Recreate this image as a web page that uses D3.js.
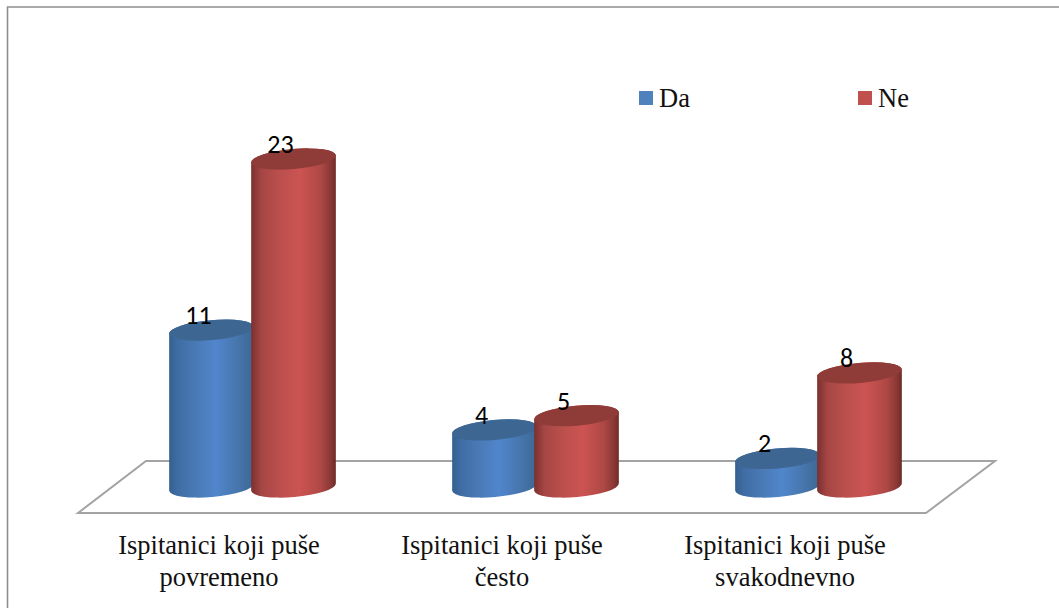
<!DOCTYPE html>
<html>
<head>
<meta charset="utf-8">
<script src="https://cdn.jsdelivr.net/npm/d3@7"></script>
<style>
html,body{margin:0;padding:0;background:#fff;overflow:hidden}
svg{display:block}
</style>
</head>
<body>
<svg id="chart" width="1059" height="608"></svg>
<script>
const categories = ["Ispitanici koji puše povremeno", "Ispitanici koji puše često", "Ispitanici koji puše svakodnevno"];
const seriesNames = ["Da", "Ne"];
const daValues = [11, 4, 2];
const neValues = [23, 5, 8];

const svg = d3.select("#chart");
const x0 = d3.scalePoint().domain(categories).range([252.5, 818.5]);
const x1 = d3.scalePoint().domain(seriesNames).range([-41, 41]);
const y = d3.scaleLinear().domain([0, 23]).range([487, 159]);
const labelX = d3.scalePoint().domain(categories).range([219, 785]);

const rx = 42.5, ry = 10, tilt = -5;
const dx = rx * Math.cos(tilt * Math.PI / 180), dy = rx * Math.sin(tilt * Math.PI / 180);

const palette = {
  Da: {id: "gDa", top: "#3d6693", swatch: "#4f81bd",
       stops: [[0, "#34608f"], [0.1, "#3f6ca3"], [0.32, "#4a7ab6"], [0.55, "#5186cc"], [0.82, "#4675ab"], [1, "#3d6793"]]},
  Ne: {id: "gNe", top: "#8f3c39", swatch: "#c0504d",
       stops: [[0, "#7a3030"], [0.12, "#a54644"], [0.32, "#b94f4c"], [0.57, "#cc5452"], [0.82, "#ae4845"], [0.94, "#8a3835"], [1, "#6f2b29"]]}
};

const defs = svg.append("defs");
seriesNames.forEach(s => {
  const g = defs.append("linearGradient").attr("id", palette[s].id)
    .attr("x1", 0).attr("x2", 1).attr("y1", 0).attr("y2", 0);
  palette[s].stops.forEach(st => g.append("stop").attr("offset", st[0]).attr("stop-color", st[1]));
});

// outer frame (top and left edges only are visible)
svg.append("path").attr("d", "M7.5,608V7H1059").attr("fill", "none").attr("stroke", "#8e8e8e").attr("stroke-width", 1.6);

// floor
svg.append("path").attr("d", "M78,513L146,461L995,461L926,513Z")
  .attr("fill", "none").attr("stroke", "#a3a3a3").attr("stroke-width", 2);

const rows = [];
categories.forEach((c, i) => {
  rows.push({c, s: "Da", v: daValues[i]});
  rows.push({c, s: "Ne", v: neValues[i]});
});

const bars = svg.append("g").selectAll("g").data(rows).join("g")
  .attr("transform", d => `translate(${x0(d.c) + x1(d.s)},0)`);

bars.append("path")
  .attr("fill", d => `url(#${palette[d.s].id})`)
  .attr("d", d => {
    const t = y(d.v), b = y(0);
    return `M${-dx},${t - dy}L${-dx},${b - dy}` +
      `A${rx},${ry} ${tilt} 0 0 ${dx},${b + dy}` +
      `L${dx},${t + dy}` +
      `A${rx},${ry} ${tilt} 0 0 ${-dx},${t - dy}Z`;
  });

bars.append("ellipse")
  .attr("rx", rx).attr("ry", ry)
  .attr("fill", d => palette[d.s].top)
  .attr("transform", d => `translate(0,${y(d.v)}) rotate(${tilt})`);

// data labels
svg.append("g").selectAll("text").data(rows).join("text")
  .attr("x", d => x0(d.c) + x1(d.s) - 13)
  .attr("y", d => y(d.v) - 6)
  .attr("text-anchor", "middle")
  .attr("font-family", "Carlito, Lato, 'Noto Sans', sans-serif")
  .attr("font-size", 26)
  .attr("fill", "#000")
  .text(d => d.v);

// category labels
const cat = svg.append("g").selectAll("text").data(categories).join("text")
  .attr("text-anchor", "middle")
  .attr("font-family", "'Liberation Serif', serif")
  .attr("font-size", 26.5)
  .attr("fill", "#111");
cat.each(function (d) {
  const words = d.split(" ");
  const sel = d3.select(this);
  sel.append("tspan").attr("x", labelX(d)).attr("y", 554).text(words.slice(0, 3).join(" "));
  sel.append("tspan").attr("x", labelX(d)).attr("y", 586).text(words.slice(3).join(" "));
});

// legend
const legendX = d3.scalePoint().domain(seriesNames).range([639, 858]);
const leg = svg.append("g").selectAll("g").data(seriesNames).join("g")
  .attr("transform", d => `translate(${legendX(d)},91)`);
leg.append("rect").attr("width", 14).attr("height", 14).attr("fill", d => palette[d].swatch);
leg.append("text").attr("x", 20).attr("y", 16)
  .attr("font-family", "'Liberation Serif', serif").attr("font-size", 26.5).attr("fill", "#111")
  .text(d => d);
</script>
</body>
</html>
